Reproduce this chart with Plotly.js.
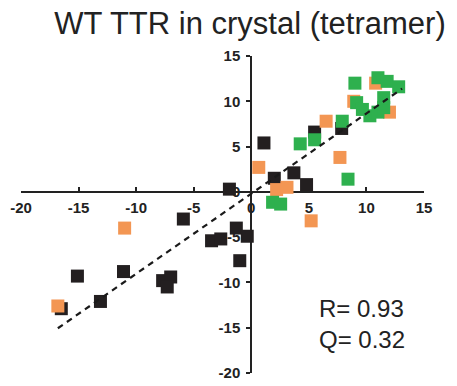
<!DOCTYPE html>
<html>
<head>
<meta charset="utf-8">
<script src="https://cdn.plot.ly/plotly-3.0.1.min.js"></script>
<style>html,body{margin:0;padding:0;background:#fff}#chart{width:457px;height:386px}</style>
</head>
<body>
<div id="chart"></div>
<script>
// Data
var blackX = [1.1, 2.0, 3.7, 4.8, -1.9, 5.5, 7.85, -5.9, -15.1, -11.1, -13.1, -16.5, -7.7, -7.0, -7.3, -3.45, -2.65, -1.3, -0.35, -1.0];
var blackY = [5.4, 1.5, 2.1, 0.8, 0.3, 6.6, 7.0, -3.0, -9.3, -8.8, -12.1, -12.9, -9.8, -9.4, -10.5, -5.4, -5.2, -4.0, -4.9, -7.6];

var orangeX = [0.65, 2.2, 3.1, 5.2, 6.5, 7.7, 8.9, 10.8, 12.0, -11.0, -16.8];
var orangeY = [2.7, 0.25, 0.5, -3.2, 7.8, 3.8, 10.0, 12.0, 8.8, -4.0, -12.6];

var greenX = [1.85, 2.55, 4.25, 5.5, 7.9, 8.4, 9.0, 9.15, 9.65, 10.3, 11.0, 11.5, 11.5, 11.0, 11.8, 12.8];
var greenY = [-1.15, -1.35, 5.3, 5.75, 7.8, 1.4, 12.0, 9.85, 9.1, 8.4, 8.8, 9.3, 10.4, 12.6, 12.2, 11.6];

var fitX = [-16.8, 13.1];
var fitY = [-15.06, 11.4];

var xTickVals = [-20, -15, -10, -5, 0, 5, 10, 15];
var xTickText = ['-20', '-15', '-10', '-5', '0', '5', '10', '15'];
var yTickVals = [-20, -15, -10, -5, 0, 5, 10, 15];
var yTickText = ['-20', '-15', '-10', '-5', '0', '5', '10', '15'];

var titleText = 'WT TTR in crystal (tetramer)';
var statR = 'R= 0.93';
var statQ = 'Q= 0.32';

var mk = function (c) { return {symbol: 'square', size: 13, color: c, line: {width: 0}}; };

var traces = [
  {x: blackX, y: blackY, mode: 'markers', type: 'scatter', marker: mk('#231f20'), hoverinfo: 'none'},
  {x: orangeX, y: orangeY, mode: 'markers', type: 'scatter', marker: mk('#f39653'), hoverinfo: 'none'},
  {x: greenX, y: greenY, mode: 'markers', type: 'scatter', marker: mk('#2eb04e'), hoverinfo: 'none'},
  {x: fitX, y: fitY, mode: 'lines', type: 'scatter', line: {color: '#1a1a1a', width: 2.2, dash: '6px,5px'}, hoverinfo: 'none'}
];

var tickFont = {family: 'Liberation Sans, Arial, sans-serif', size: 15, color: '#222', weight: 'bold'};

var layout = {
  width: 457, height: 386,
  margin: {l: 21, r: 33, t: 56, b: 13, pad: 0},
  paper_bgcolor: '#fff', plot_bgcolor: '#fff',
  showlegend: false,
  title: {text: titleText, font: {family: 'Liberation Sans, Arial, sans-serif', size: 31, color: '#222'},
          xref: 'container', x: 0.547, xanchor: 'center', yref: 'container', y: 0.94, yanchor: 'middle'},
  xaxis: {range: [-20, 15], showgrid: false, zeroline: false, showline: true, linecolor: '#222', linewidth: 2,
          anchor: 'free', position: 20 / 35, ticks: 'inside', ticklen: 4, tickwidth: 2, tickcolor: '#222',
          tickmode: 'array', tickvals: xTickVals, ticktext: xTickText, tickfont: tickFont, layer: 'below traces',
          ticklabelstandoff: 2},
  yaxis: {range: [-20, 15], showgrid: false, zeroline: false, showline: true, linecolor: '#222', linewidth: 2,
          anchor: 'free', position: 20 / 35, ticks: 'outside', ticklen: 4, tickwidth: 2, tickcolor: '#222',
          tickmode: 'array', tickvals: yTickVals, ticktext: yTickText, tickfont: tickFont, layer: 'below traces',
          ticklabelstandoff: 3},
  annotations: [
    {text: statR, xref: 'x', yref: 'y', x: 5.75, y: -12.9, xanchor: 'left', yanchor: 'middle', showarrow: false,
     font: {family: 'Liberation Sans, Arial, sans-serif', size: 24, color: '#222'}},
    {text: statQ, xref: 'x', yref: 'y', x: 5.75, y: -16.3, xanchor: 'left', yanchor: 'middle', showarrow: false,
     font: {family: 'Liberation Sans, Arial, sans-serif', size: 24, color: '#222'}}
  ]
};

Plotly.newPlot('chart', traces, layout, {staticPlot: true, displayModeBar: false});
</script>
</body>
</html>
